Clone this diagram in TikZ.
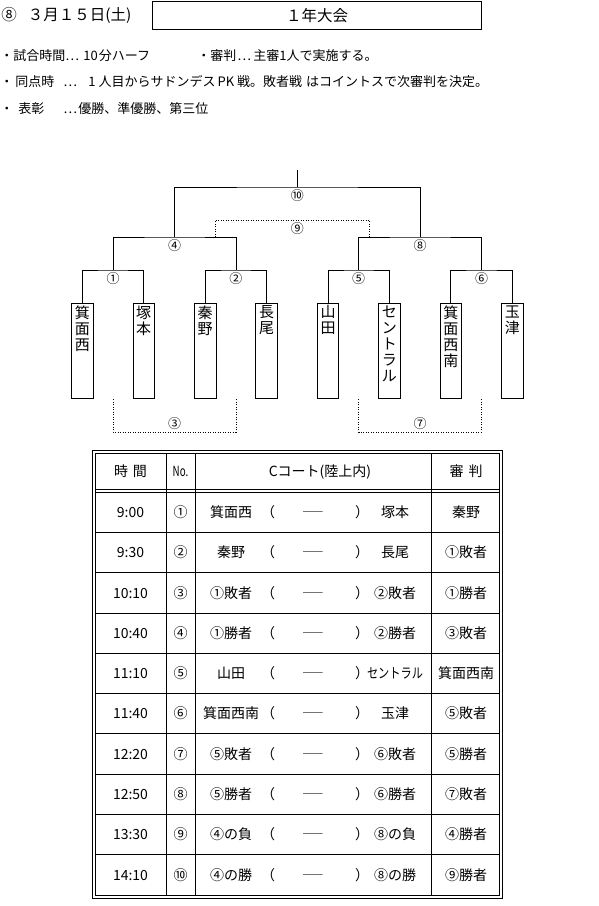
\documentclass[tikz,border=0pt]{standalone}
\usepackage{fontspec}
\usepackage{graphicx}
\newfontfamily\jpfont{Noto Sans CJK JP}
\usetikzlibrary{positioning}
\newcommand\middots{⋯}

\begin{document}
\begin{tikzpicture}[x=1pt,y=-1pt,line width=0.8pt,
  every node/.style={font=\jpfont,inner sep=0pt},
  headtext/.style={font=\jpfont\fontsize{15.5pt}{16pt}\selectfont},
  note/.style={anchor=base west,font=\jpfont\fontsize{13pt}{13pt}\selectfont},
  teambox/.style={draw,minimum width=21.5pt,minimum height=95pt,anchor=north},
  vname/.style={align=center,font=\jpfont\fontsize{15pt}{16pt}\selectfont},
  mnum/.style={font=\jpfont\fontsize{13pt}{13pt}\selectfont},
  dotline/.style={line width=0.7pt,dash pattern=on 1pt off 1.5pt},
  cell/.style={anchor=base,font=\jpfont\fontsize{14pt}{14pt}\selectfont}]
  \useasboundingbox (0,0) rectangle (599,906);

  % title line and notes
  \node[headtext,anchor=west] (date) at (1,15) {⑧\hspace{11pt}３月１５日(土)};
  \node[headtext,draw,minimum width=329pt,minimum height=28pt] (title) at (317,15.5) {１年大会};

  \node[note] (note1a) at (0,60) {・試合時間};
  \node[note] (note1b) at (65,60) {\middots};
  \node[note] (note1c) at (83,60) {10\hspace{1pt}分ハーフ};
  \node[note] (note2a) at (197,60) {・審判};
  \node[note] (note2b) at (237,60) {\middots};
  \node[note] (note2c) at (253,60) {主審1人で実施する。};
  \node[note] (note3a) at (0,86) {・\hspace{2pt}同点時};
  \node[note] (note3b) at (63,86) {\middots};
  \node[note] (note3c) at (88,86) {1\hspace{3pt}人目からサドンデス\hspace{2pt}PK\hspace{3pt}戦。敗者戦\hspace{4pt}はコイントスで次審判を決定。};
  \node[note] (note4a) at (0,113) {・\hspace{5pt}表彰};
  \node[note] (note4b) at (63,113) {\middots};
  \node[note] (note4c) at (78,113) {優勝、準優勝、第三位};

  % bracket
  \foreach \i/\s in {1/箕\\面\\西, 2/塚\\本, 3/秦\\野, 4/長\\尾,
                     5/山\\田, 6/セ\\ン\\ト\\ラ\\ル, 7/箕\\面\\西\\南, 8/玉\\津} {
    \node[teambox] (t\i) at ({82.3+61.43*(\i-1)},303.3) {};
    \node[vname,below=2pt of t\i.north] (nm\i) {\s};
  }
  \coordinate (j1) at (113,270);
  \coordinate (j2) at (235.9,270);
  \coordinate (j5) at (358.7,270);
  \coordinate (j6) at (481.6,270);
  \coordinate (j4) at (174.5,237);
  \coordinate (j8) at (420.2,237);
  \coordinate (j10) at (297.3,187);
  \coordinate (top) at (297.3,170);
  \coordinate (j9) at (297.3,220);
  \coordinate (d9a) at (215,237);
  \coordinate (d9b) at (369.3,237);
  \coordinate (j3) at (174.5,432);
  \coordinate (j7) at (420.2,432);

  \draw (t1.north) |- (j1) -| (t2.north);
  \draw (t3.north) |- (j2) -| (t4.north);
  \draw (t5.north) |- (j5) -| (t6.north);
  \draw (t7.north) |- (j6) -| (t8.north);
  \draw (j1) |- (j4) -| (j2);
  \draw (j5) |- (j8) -| (j6);
  \draw (j4) |- (j10) -| (j8);
  \draw (j10) -- (top);
  \draw[dotline] (d9a) |- (j9) -| (d9b);
  \draw[dotline] (j1 |- t1.south) |- (j3) -| (j2 |- t3.south);
  \draw[dotline] (j5 |- t5.south) |- (j7) -| (j6 |- t7.south);

  \node[mnum] (c1) at (113,278.5) {①};
  \node[mnum] (c2) at (235.9,278.5) {②};
  \node[mnum] (c5) at (358.7,278.5) {⑤};
  \node[mnum] (c6) at (481.6,278.5) {⑥};
  \node[mnum] (c4) at (174.5,245.5) {④};
  \node[mnum] (c8) at (420.2,245.5) {⑧};
  \node[mnum] (c10) at (297.3,195.5) {⑩};
  \node[mnum] (c9) at (297.3,229) {⑨};
  \node[mnum] (c3) at (174.5,423.5) {③};
  \node[mnum] (c7) at (420.2,423.5) {⑦};

  % schedule table
  \draw (92,450) rectangle (502,898);
  \draw (95,453) rectangle (499,895);
  \draw (95,489) -- (499,489);
  \draw (95,492) -- (499,492);
  \foreach \k in {1,...,9}
    \draw (95,{492+40.3*\k}) -- (499,{492+40.3*\k});
  \foreach \x in {166,195,431.7}
    \draw (\x,453) -- (\x,895);

  \node[cell] (h1) at (130.5,476.3) {時\hspace{5pt}間};
  \node[cell] (h2) at (180.5,476.3) {\scalebox{0.7}[1]{No.}};
  \node[cell] (h3) at (320,476.3) {Cコート(陸上内)};
  \node[cell] (h4) at (466,476.3) {審\hspace{5pt}判};

  \foreach \r/\tm/\no/\ta/\tb/\rf in {
      1/9:00/①/箕面西/塚本/秦野,
      2/9:30/②/秦野/長尾/①敗者,
      3/10:10/③/①敗者/②敗者/①勝者,
      4/10:40/④/①勝者/②勝者/③敗者,
      5/11:10/⑤/山田/\scalebox{0.8}[1]{セントラル}/箕面西南,
      6/11:40/⑥/箕面西南/玉津/⑤敗者,
      7/12:20/⑦/⑤敗者/⑥敗者/⑤勝者,
      8/12:50/⑧/⑤勝者/⑥勝者/⑦敗者,
      9/13:30/⑨/④の負/⑧の負/④勝者,
      10/14:10/⑩/④の勝/⑧の勝/⑨勝者} {
    \pgfmathsetmacro\yy{492+40.3*(\r-0.5)+5.3}
    \node[cell] (tm\r) at (130.5,\yy) {\tm};
    \node[cell] (no\r) at (180.5,\yy) {\no};
    \node[cell] (ta\r) at (231,\yy) {\ta};
    \node[cell] (lp\r) at (268,\yy) {（};
    \node[cell] (ds\r) at (313,\yy) {\scalebox{1.4}[1]{─}};
    \node[cell] (rp\r) at (362,\yy) {）};
    \node[cell] (tb\r) at (395,\yy) {\tb};
    \node[cell] (rf\r) at (466,\yy) {\rf};
  }
\end{tikzpicture}
\end{document}
